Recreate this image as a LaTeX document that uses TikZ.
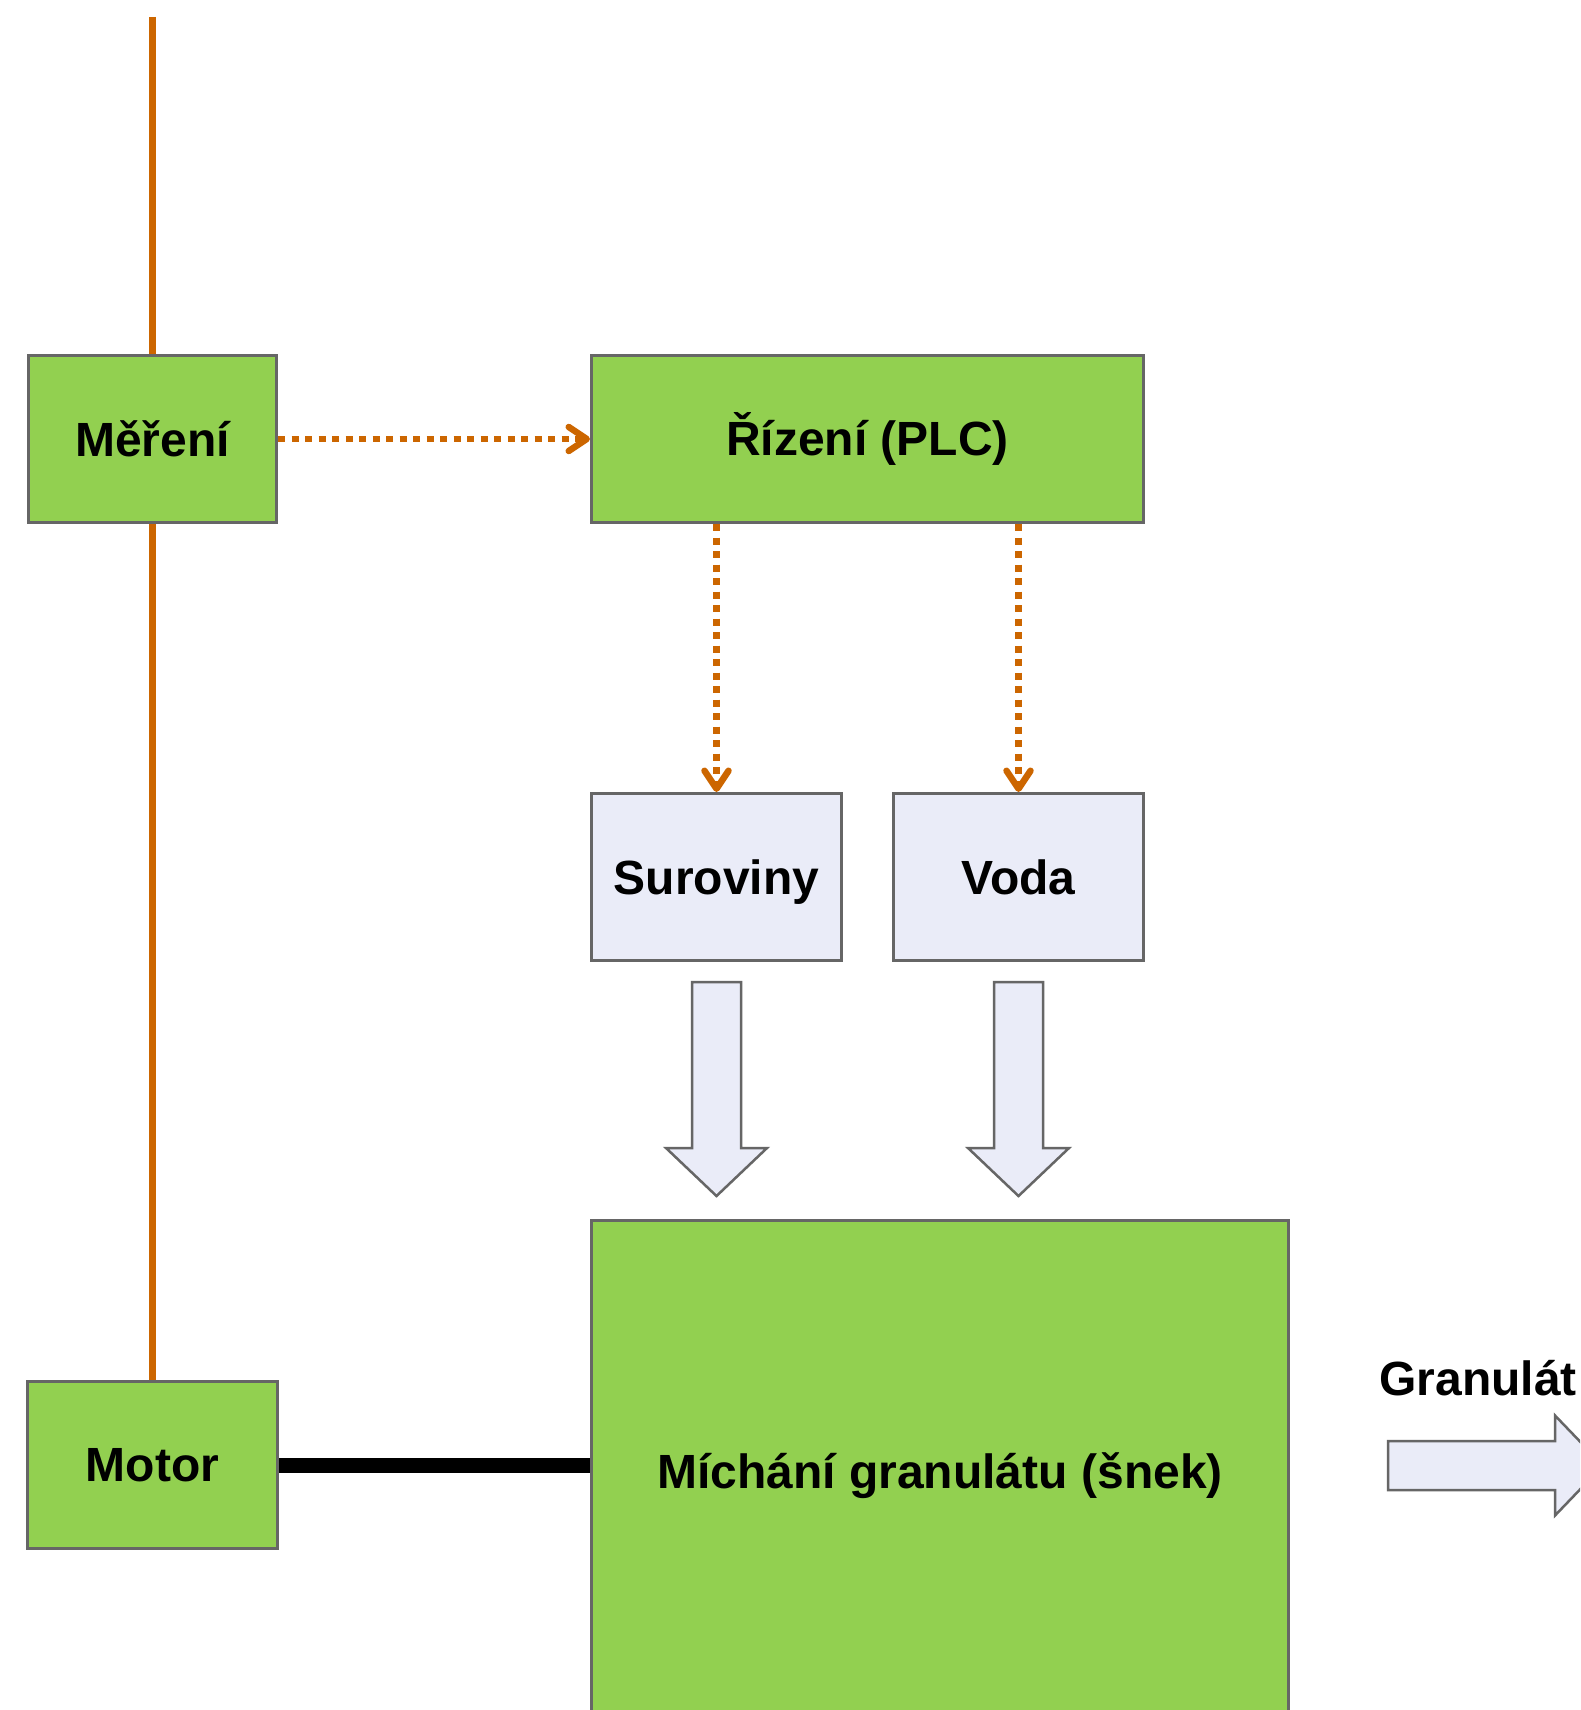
\documentclass[tikz,border=0pt]{standalone}
\usepackage{fontspec}
\setmainfont{Liberation Sans}
\usetikzlibrary{arrows.meta, positioning, calc}
\definecolor{boxgreen}{HTML}{92D050}
\definecolor{boxline}{HTML}{666666}
\definecolor{srcfill}{HTML}{EAECF8}
\definecolor{sigorange}{HTML}{CC6600}

\begin{document}
\begin{tikzpicture}[x=1pt, y=-1pt,
  blk/.style={draw=boxline, fill=boxgreen, line width=3pt, minimum width=248pt,
              minimum height=167pt, inner sep=0pt,
              font=\fontsize{48}{56}\selectfont\bfseries},
  src/.style={blk, fill=srcfill, minimum width=250pt, text depth=0pt},
  wire/.style={sigorange, line width=6.5pt},
  arr/.style={-{Straight Barb[length=18pt, width=24pt, round]}, sigorange,
              line width=6.5pt, dash pattern=on 7pt off 6.5pt},
  fat/.style={draw=boxline, fill=srcfill, line width=2.5pt},
  shaft/.style={black, line width=15pt},
  lbl/.style={font=\fontsize{48}{56}\selectfont\bfseries, inner sep=0pt},
  node distance=312pt
]
\clip (0,0) rectangle (1580,1710);
\fill[white] (0,0) rectangle (1580,1710);

\node[blk] (mereni) at (152.5,439) {Měření};
\node[blk, minimum width=552pt, right=of mereni] (rizeni) {Řízení (PLC)};
\node[src, below=268pt of rizeni.south west, anchor=north west] (sur) {Suroviny};
\node[src, right=49pt of sur] (voda) {Voda};
\node[blk, minimum width=697pt, minimum height=511pt, below=257pt of sur.south west,
      anchor=north west] (michani) {Míchání granulátu (šnek)};
\node[blk, minimum width=250pt] (motor) at (152.5,1465) {Motor};
\node[lbl] (granulat) at (1478,1378) {Granulát};
\coordinate (feed) at (152.5,17);

% measurement line and signals
\draw[wire] (feed) -- (mereni);
\draw[wire] (mereni) -- (motor);
\draw[arr] (mereni) -- (rizeni);
\draw[arr] (rizeni.south -| sur) -- (sur);
\draw[arr] (rizeni.south -| voda) -- (voda);

% drive shaft
\draw[shaft] (motor) -- (motor -| michani.west);

% material flow
\draw[fat] ($(sur.south)+(-24.5,20)$) -- ++(0,166) -- ++(-26,0) -- ++(50.5,48)
     -- ++(50.5,-48) -- ++(-26,0) -- ++(0,-166) -- cycle;
\draw[fat] ($(voda.south)+(-24.5,20)$) -- ++(0,166) -- ++(-26,0) -- ++(50.5,48)
     -- ++(50.5,-48) -- ++(-26,0) -- ++(0,-166) -- cycle;
\draw[fat] ($(michani.east)+(98,-35)$) -- ++(167,0) -- ++(0,-25.5) -- ++(48,50)
     -- ++(-48,50) -- ++(0,-25.5) -- ++(-167,0) -- cycle;
\end{tikzpicture}
\end{document}
